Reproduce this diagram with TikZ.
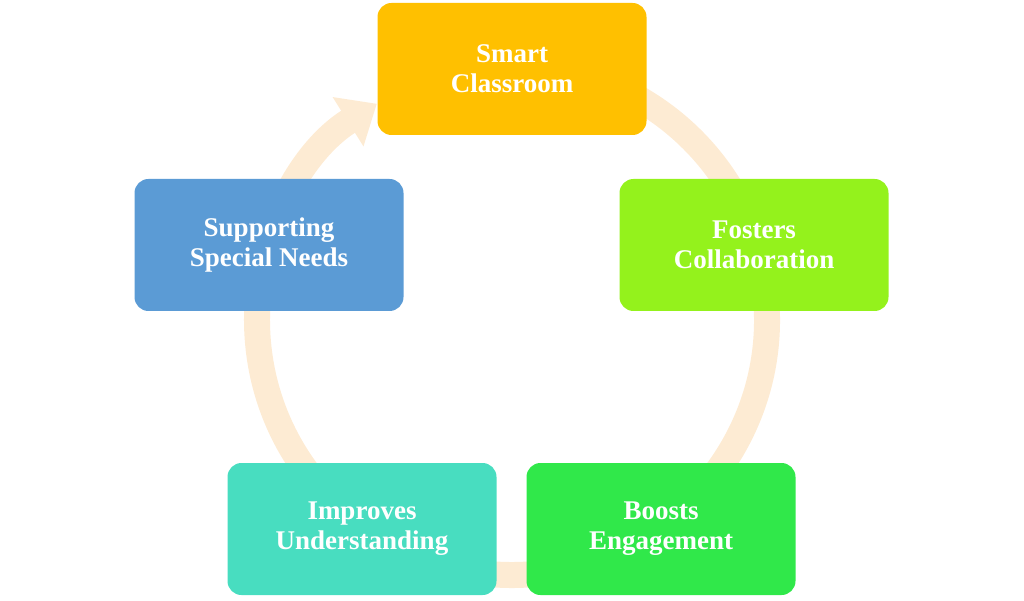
\documentclass[tikz,border=0pt]{standalone}
\usepackage{fontspec}
\setmainfont{Liberation Serif}
\usetikzlibrary{arrows.meta}
\definecolor{ring}{HTML}{FDEBD3}
\definecolor{c1}{HTML}{FFC000}
\definecolor{c2}{HTML}{94F21C}
\definecolor{c3}{HTML}{30E84A}
\definecolor{c4}{HTML}{48DDC0}
\definecolor{c5}{HTML}{5B9BD5}
\begin{document}
\begin{tikzpicture}[x=1pt,y=1pt,
  box/.style={rounded corners=14pt,minimum width=269pt,minimum height=132pt,align=center,text=white,font=\fontsize{27}{30}\selectfont\bfseries}]
\useasboundingbox (0,0) rectangle (1024,600);
\coordinate (o) at (512,280);
\draw[ring,line width=26pt,-{Triangle[width=56pt,length=34pt]}] ([shift={(95:255)}]o) arc[start angle=95,end angle=-238,radius=255];
\node[box,fill=c1] (a) at (512,531) {Smart\\Classroom};
\node[box,fill=c2] (b) at (754,355) {Fosters\\Collaboration};
\node[box,fill=c3] (c) at (661,71) {Boosts\\Engagement};
\node[box,fill=c4] (d) at (362,71) {Improves\\Understanding};
\node[box,fill=c5] (e) at (269,355) {Supporting\\Special Needs};
\end{tikzpicture}
\end{document}
